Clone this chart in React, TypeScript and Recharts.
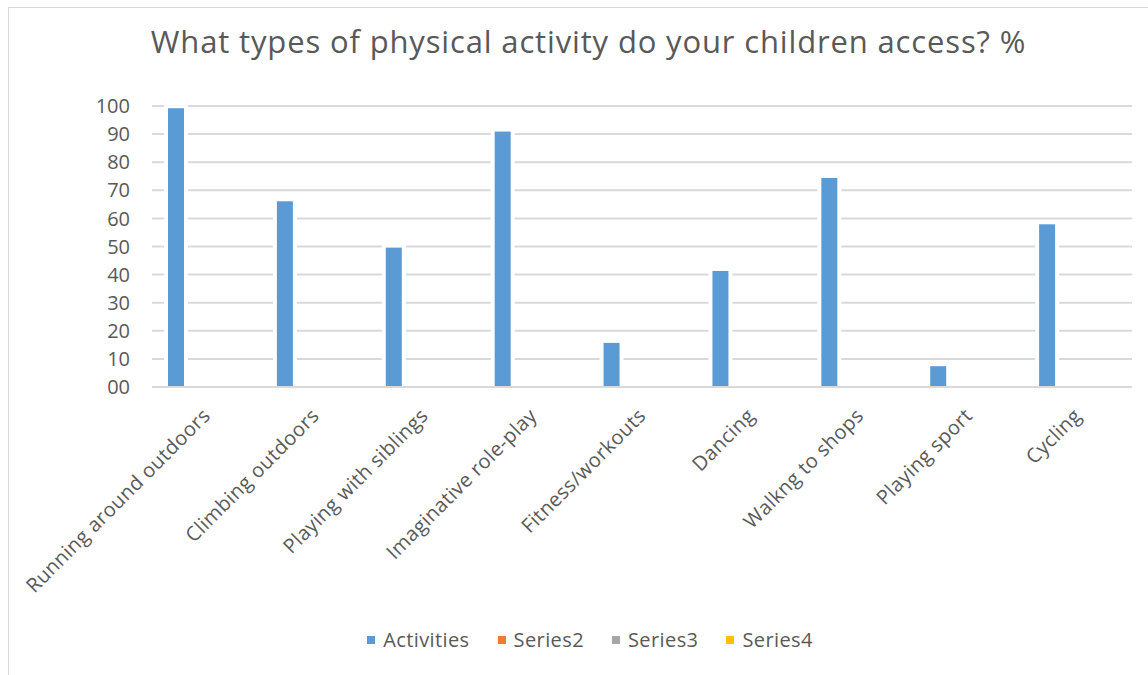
import { BarChart, Bar, XAxis, YAxis, CartesianGrid, Legend } from 'recharts';

const FONT = '"Open Sans", Lato, sans-serif';
const TEXT = '#595959';

const activities = [
  'Running around outdoors',
  'Climbing outdoors',
  'Playing with siblings',
  'Imaginative role-play',
  'Fitness/workouts',
  'Dancing',
  'Walkng to shops',
  'Playing sport',
  'Cycling',
];
const activityPct = [99.2, 66.1, 49.6, 90.9, 15.7, 41.3, 74.4, 7.4, 57.9];
// the other three series exist in the sheet but hold no values
const series2: (number | null)[] = [null, null, null, null, null, null, null, null, null];
const series3: (number | null)[] = [null, null, null, null, null, null, null, null, null];
const series4: (number | null)[] = [null, null, null, null, null, null, null, null, null];
const yTicks = [0, 10, 20, 30, 40, 50, 60, 70, 80, 90, 100];

const data = activities.map((name, i) => ({
  name,
  Activities: activityPct[i],
  Series2: series2[i],
  Series3: series3[i],
  Series4: series4[i],
}));

// bar with a thin white halo so the gridlines stop short of it
const HaloBar = (props: any) => {
  const { x, y, width, height, fill } = props;
  if (!height || height <= 0) return null;
  return (
    <g>
      <rect x={x - 4} y={y - 3} width={width + 8} height={height + 2} fill="#fff" />
      <rect x={x} y={y} width={width} height={height} fill={fill} />
    </g>
  );
};

const AngledTick = (props: any) => {
  const { x, y, payload } = props;
  const tx = x + 5;
  const ty = y + 22;
  return (
    <text
      x={tx}
      y={ty}
      transform={`rotate(-45, ${tx}, ${ty})`}
      textAnchor="end"
      fill={TEXT}
      fontSize={20}
      letterSpacing={0.4}
      fontFamily={FONT}
    >
      {payload.value}
    </text>
  );
};

const LegendRow = ({ payload }: any) => (
  <div
    style={{
      display: 'flex',
      justifyContent: 'center',
      gap: 28,
      fontFamily: FONT,
      fontSize: 20,
      letterSpacing: 0.4,
      color: TEXT,
    }}
  >
    {(payload || []).map((p: any) => (
      <span key={p.value} style={{ display: 'flex', alignItems: 'center' }}>
        <span style={{ display: 'inline-block', width: 8, height: 8, background: p.color, marginRight: 8 }} />
        {p.value}
      </span>
    ))}
  </div>
);

export default function App() {
  return (
    <div
      style={{
        position: 'absolute',
        left: 8,
        top: 7,
        width: 1139,
        height: 667,
        borderLeft: '1px solid #d9d9d9',
        borderTop: '1px solid #d9d9d9',
        background: '#fff',
        overflow: 'hidden',
      }}
    >
      <div
        style={{
          position: 'absolute',
          left: 0,
          width: 1159,
          top: 12,
          textAlign: 'center',
          fontFamily: FONT,
          fontSize: 31,
          letterSpacing: 0.85,
          color: TEXT,
          whiteSpace: 'nowrap',
        }}
      >
        What types of physical activity do your children access? %
      </div>
      <BarChart
        width={1139}
        height={667}
        data={data}
        margin={{ top: 98, right: 16, bottom: 0, left: 0 }}
        barSize={16}
        barGap={4}
      >
        <CartesianGrid vertical={false} stroke="#d9d9d9" strokeWidth={2} />
        <XAxis
          dataKey="name"
          height={288}
          interval={0}
          tickLine={false}
          axisLine={{ stroke: '#d9d9d9', strokeWidth: 2 }}
          tick={<AngledTick />}
        />
        <YAxis
          width={143}
          domain={[0, 100]}
          ticks={yTicks}
          axisLine={false}
          tickLine={false}
          tickMargin={16}
          tickFormatter={(v: number) => String(v).padStart(2, '0')}
          tick={{ fill: TEXT, fontSize: 20, fontFamily: FONT }}
        />
        <Legend
          verticalAlign="middle"
          align="center"
          layout="horizontal"
          wrapperStyle={{ top: 618, left: 0, width: 1162 }}
          content={<LegendRow />}
        />
        <Bar dataKey="Activities" fill="#5b9bd5" shape={<HaloBar />} isAnimationActive={false} />
        <Bar dataKey="Series2" fill="#ed7d31" isAnimationActive={false} />
        <Bar dataKey="Series3" fill="#a5a5a5" isAnimationActive={false} />
        <Bar dataKey="Series4" fill="#ffc000" isAnimationActive={false} />
      </BarChart>
    </div>
  );
}
